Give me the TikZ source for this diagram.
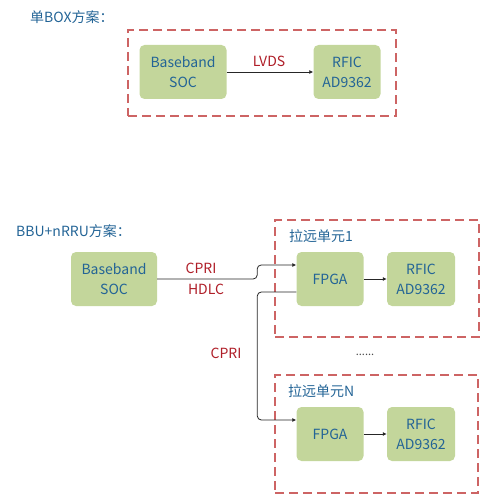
\documentclass[tikz,border=0pt]{standalone}
\usepackage{fontspec}
\setmainfont{Noto Sans CJK SC}
\usetikzlibrary{arrows.meta}
\definecolor{boxgreen}{RGB}{195,214,155}
\definecolor{txtblue}{RGB}{35,100,150}
\definecolor{lblred}{RGB}{175,30,40}
\definecolor{dashred}{RGB}{205,100,100}
\begin{document}
\begin{tikzpicture}[x=1pt,y=-1pt,
        blk/.style={fill=boxgreen,rounded corners=5pt,text=txtblue,align=center,
            font=\fontsize{14}{20}\selectfont,inner sep=0pt,minimum height=54pt},
        grp/.style={draw=dashred,line width=1.2pt,dash pattern=on 9pt off 5pt,inner sep=0pt},
        ttl/.style={text=txtblue,font=\fontsize{14}{16}\selectfont,anchor=west,inner sep=0pt},
        lbl/.style={text=lblred,font=\fontsize{14}{16}\selectfont,inner sep=0pt},
        link/.style={draw=black!85,line width=0.8pt,-{Latex[length=4pt,width=4pt]}}]
        \useasboundingbox (0,0) rectangle (490,497);
        \node [ttl] (box) at (30,17) {单BOX方案：};
        \node [grp,minimum width=268pt,minimum height=86pt] (grpbox) at (262,73) {};
        \node [blk,minimum width=87pt] (soc) at (183,72) {Baseband\\SOC};
        \node [blk,minimum width=67pt] (rfic) at (347,72) {RFIC\\AD9362};
        \draw [link] (soc) -- (rfic);
        \node [lbl] (lvds) at (269,61) {LVDS};
        \node [ttl] (bbu) at (16,231) {BBU+nRRU方案：};
        \node [grp,minimum width=204pt,minimum height=117pt] (grpa) at (377,278.5) {};
        \node [grp,minimum width=203pt,minimum height=118pt] (grpn) at (376.5,434) {};
        \node [ttl] (suba) at (289,236) {拉远单元1};
        \node [ttl] (subn) at (288,391) {拉远单元N};
        \node [blk,minimum width=86pt] (bbsoc) at (114,279) {Baseband\\SOC};
        \node [blk,minimum width=67pt] (fpgaa) at (330,279) {FPGA};
        \node [blk,minimum width=68pt] (rfica) at (421,279) {RFIC\\AD9362};
        \node [blk,minimum width=67pt] (fpgan) at (330,434) {FPGA};
        \node [blk,minimum width=68pt] (rficn) at (421,434) {RFIC\\AD9362};
        \coordinate (ina) at ([yshift=14pt]fpgaa.west);
        \coordinate (outa) at ([yshift=-13pt]fpgaa.west);
        \coordinate (inn) at ([yshift=14pt]fpgan.west);
        \draw [link,rounded corners=4pt] (bbsoc.east) -- ++(100,0) |- (ina);
        \draw [link,rounded corners=4pt] (outa) -- ++(-39,0) |- (inn);
        \draw [link] (fpgaa) -- (rfica);
        \draw [link] (fpgan) -- (rficn);
        \node [lbl] (cpria) at (201,268) {CPRI};
        \node [lbl] (hdlc) at (206,289) {HDLC};
        \node [lbl] (cprin) at (226,353) {CPRI};
        \node [inner sep=0pt,font=\fontsize{11}{12}\selectfont,text=black!70] (dots) at (365,355) {......};
\end{tikzpicture}
\end{document}
